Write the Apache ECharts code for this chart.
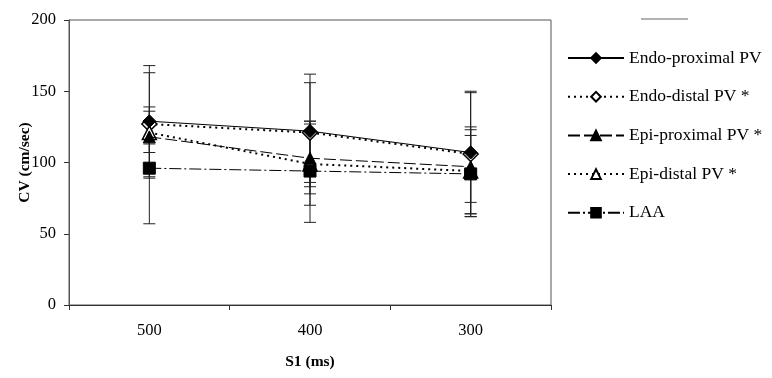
<!DOCTYPE html>
<html>
<head>
<meta charset="utf-8">
<script src="https://cdn.jsdelivr.net/npm/echarts@6/dist/echarts.min.js"></script>
<style>
  html, body { margin: 0; padding: 0; background: #fff; }
  #main { width: 772px; height: 378px; }
</style>
</head>
<body>
<div id="main"></div>
<script>
// S1 cycle length categories
const categories = ['500', '400', '300']
const yTicks = [0, 50, 100, 150, 200]

// mean CV (cm/sec)
const endoProx = [129, 122, 107]
const endoDist = [127, 121, 106]
const epiProx = [118, 103, 97]
const epiDist = [121, 99, 94]
const laa = [96, 94, 92]

// error bar low / high
const endoProxLow = [90, 83, 64]
const endoProxHigh = [168, 162, 150]
const endoDistLow = [89, 86, 62]
const endoDistHigh = [163, 156, 149]
const epiProxLow = [107, 78, 72]
const epiProxHigh = [129, 129, 123]
const epiDistLow = [113, 70, 64]
const epiDistHigh = [139, 127, 125]
const laaLow = [57, 58, 62]
const laaHigh = [136, 129, 119]

const chart = echarts.init(document.getElementById('main'))

function errSeries(low, high) {
  return {
    type: 'custom',
    silent: true,
    z: 1,
    renderItem: function (params, api) {
      const x = api.value(0)
      const lo = api.coord([x, api.value(1)])
      const hi = api.coord([x, api.value(2)])
      const w = 6
      const style = { stroke: '#222', lineWidth: 1 }
      return {
        type: 'group',
        children: [
          { type: 'line', shape: { x1: lo[0], y1: lo[1], x2: hi[0], y2: hi[1] }, style: style },
          { type: 'line', shape: { x1: lo[0] - w, y1: lo[1], x2: lo[0] + w, y2: lo[1] }, style: style },
          { type: 'line', shape: { x1: hi[0] - w, y1: hi[1], x2: hi[0] + w, y2: hi[1] }, style: style }
        ]
      }
    },
    data: low.map((v, i) => [i, v, high[i]])
  }
}

function lineSeries(name, data, symbol, size, open, lineType, lineWidth) {
  return {
    name: name,
    type: 'line',
    data: data,
    symbol: symbol,
    symbolSize: size,
    z: open ? 3 : 4,
    lineStyle: { color: '#000', width: lineWidth, type: lineType },
    itemStyle: open
      ? { color: '#fff', borderColor: '#000', borderWidth: 1.5 }
      : { color: '#000', borderColor: '#000', borderWidth: 1 }
  }
}

const option = {
  animation: false,
  backgroundColor: '#fff',
  textStyle: { fontFamily: 'Liberation Serif' },
  grid: {
    left: 69, right: 221, top: 20, bottom: 73,
    outerBoundsMode: 'none',
    show: true,
    borderColor: '#555',
    borderWidth: 1
  },
  legend: {
    orient: 'vertical',
    left: 562,
    top: 44,
    itemWidth: 56,
    itemHeight: 12,
    itemGap: 20.7,
    textStyle: { fontFamily: 'Liberation Serif', fontSize: 17.5, color: '#000' },
    data: ['Endo-proximal PV', 'Endo-distal PV *', 'Epi-proximal PV *', 'Epi-distal PV *', 'LAA']
  },
  graphic: [
    { type: 'line', shape: { x1: 641, y1: 19, x2: 688, y2: 19 }, style: { stroke: '#666', lineWidth: 1 } }
  ],
  xAxis: {
    type: 'category',
    data: categories,
    boundaryGap: true,
    name: 'S1 (ms)',
    nameLocation: 'middle',
    nameGap: 49,
    nameMoveOverlap: false,
    nameTextStyle: { fontFamily: 'Liberation Serif', fontSize: 15.5, fontWeight: 'bold', color: '#000' },
    axisLine: { lineStyle: { color: '#333', width: 1 } },
    axisTick: { show: true, length: 5, inside: false, lineStyle: { color: '#333' } },
    axisLabel: { margin: 17, fontFamily: 'Liberation Serif', fontSize: 16.5, color: '#000' }
  },
  yAxis: {
    type: 'value',
    min: 0,
    max: 200,
    interval: 50,
    name: 'CV (cm/sec)',
    nameLocation: 'middle',
    nameGap: 36,
    nameMoveOverlap: false,
    nameTextStyle: { fontFamily: 'Liberation Serif', fontSize: 15.5, fontWeight: 'bold', color: '#000' },
    axisLine: { show: true, lineStyle: { color: '#555', width: 1 } },
    axisTick: { show: true, length: 5, lineStyle: { color: '#333' } },
    splitLine: { show: false },
    axisLabel: {
      margin: 13,
      fontFamily: 'Liberation Serif',
      fontSize: 16.5,
      color: '#000',
      formatter: v => (yTicks.indexOf(v) >= 0 ? String(v) : '')
    }
  },
  series: [
    errSeries(endoProxLow, endoProxHigh),
    errSeries(endoDistLow, endoDistHigh),
    errSeries(epiProxLow, epiProxHigh),
    errSeries(epiDistLow, epiDistHigh),
    errSeries(laaLow, laaHigh),
    lineSeries('Endo-proximal PV', endoProx, 'diamond', 13, false, 'solid', 1),
    lineSeries('Endo-distal PV *', endoDist, 'diamond', 15, true, [2, 4], 2),
    lineSeries('Epi-proximal PV *', epiProx, 'triangle', 12, false, [12, 4], 1),
    lineSeries('Epi-distal PV *', epiDist, 'triangle', 14, true, [2, 4], 2),
    lineSeries('LAA', laa, 'rect', 12, false, [12, 3, 2, 3], 1)
  ]
}

chart.setOption(option)
</script>
</body>
</html>
